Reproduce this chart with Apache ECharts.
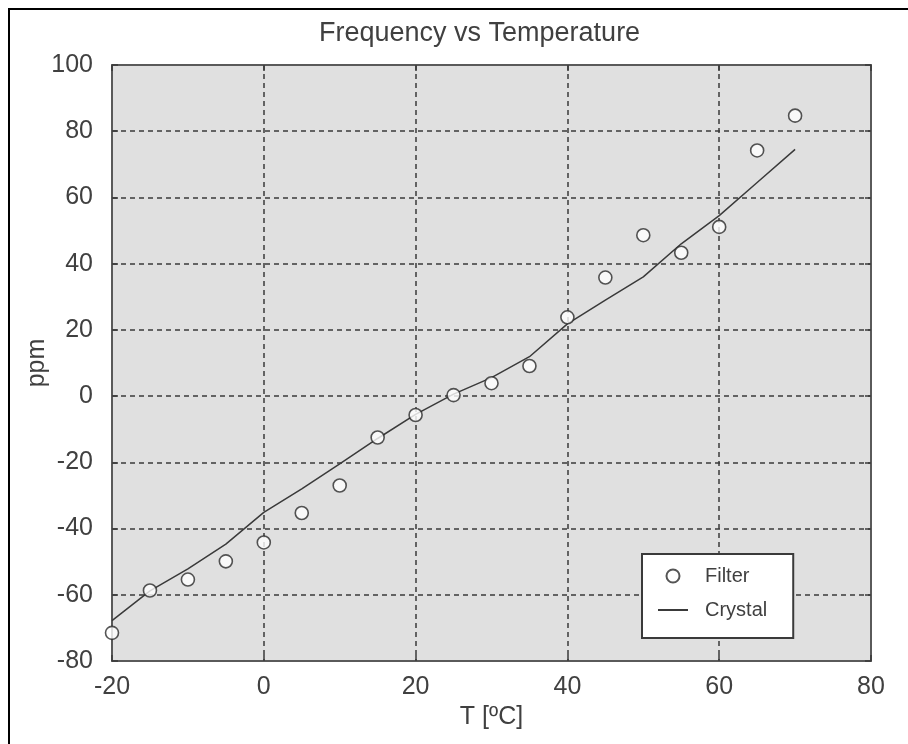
<!DOCTYPE html>
<html>
<head>
<meta charset="utf-8">
<script src="https://cdn.jsdelivr.net/npm/echarts@6/dist/echarts.min.js"></script>
<style>
html,body{margin:0;padding:0;background:#fff;}
#c{width:908px;height:744px;}
</style>
</head>
<body>
<div id="c"></div>
<script>
// ---- data ----
var temperature = [-20, -15, -10, -5, 0, 5, 10, 15, 20, 25, 30, 35, 40, 45, 50, 55, 60, 65, 70];
var filterPpm   = [-71.5, -58.7, -55.4, -49.9, -44.2, -35.3, -27, -12.5, -5.7, 0.3, 3.9, 9.1, 23.8, 35.8, 48.6, 43.3, 51.1, 74.2, 84.7];
var crystalPpm  = [-67.8, -58.8, -52.2, -44.7, -35.1, -28, -20.5, -12.8, -5.5, 0.6, 5.6, 11.9, 21.8, 29, 36, 46, 54.5, 64.5, 74.5];
var xTicks = [-20, 0, 20, 40, 60, 80];
var yTicks = [-80, -60, -40, -20, 0, 20, 40, 60, 80, 100];
var titleText = 'Frequency vs Temperature';
var xName = 'T [\u00BAC]';
var yName = 'ppm';
var seriesNames = ['Filter', 'Crystal'];

function pairs(xs, ys) { return xs.map(function (x, i) { return [x, ys[i]]; }); }

var FONT = "'Liberation Sans', Arial, sans-serif";
var TXT = '#404040';

var chart = echarts.init(document.getElementById('c'), null, {renderer: 'canvas'});

var gridLine = {show: true, lineStyle: {color: '#3a3a3a', width: 1.5, type: [5, 4]}};
var boxLine = {show: true, onZero: false, lineStyle: {color: '#5a5a5a', width: 2}};
var tickIn = {show: true, inside: true, length: 6, lineStyle: {color: '#3a3a3a', width: 1.5}};

chart.setOption({
  backgroundColor: '#ffffff',
  animation: false,
  title: {
    text: titleText,
    left: 319, top: 20, padding: 0,
    textStyle: {fontFamily: FONT, fontSize: 27, fontWeight: 'normal', color: TXT}
  },
  grid: {
    left: 112, right: 37, top: 65, bottom: 83,
    show: true, backgroundColor: '#e0e0e0', borderWidth: 0
  },
  legend: {
    orient: 'vertical',
    left: 642, top: 554,
    padding: [12, 26, 18, 15],
    itemGap: 14,
    itemWidth: 30, itemHeight: 13,
    backgroundColor: '#ffffff',
    borderColor: '#3a3a3a', borderWidth: 2,
    data: [{name: seriesNames[0]}, {name: seriesNames[1], itemStyle: {opacity: 0}}],
    textStyle: {fontFamily: FONT, fontSize: 20, color: TXT, lineHeight: 20, padding: [0, 0, 0, 12]}
  },
  xAxis: [{
    type: 'value', min: xTicks[0], max: xTicks[xTicks.length - 1], interval: 20,
    position: 'bottom',
    name: xName, nameLocation: 'middle', nameGap: 44,
    nameTextStyle: {fontFamily: FONT, fontSize: 25, color: TXT},
    axisLine: boxLine, axisTick: tickIn, splitLine: gridLine,
    axisLabel: {fontFamily: FONT, fontSize: 25, color: TXT, margin: 14}
  }, {
    type: 'value', min: xTicks[0], max: xTicks[xTicks.length - 1], interval: 20,
    position: 'top',
    axisLine: boxLine, axisTick: tickIn, splitLine: {show: false},
    axisLabel: {show: false}
  }],
  yAxis: [{
    type: 'value', min: yTicks[0], max: yTicks[yTicks.length - 1], interval: 20,
    position: 'left',
    name: yName, nameLocation: 'middle', nameGap: 62, nameRotate: 90,
    nameMoveOverlap: false,
    nameTextStyle: {fontFamily: FONT, fontSize: 25, color: TXT},
    axisLine: boxLine, axisTick: tickIn, splitLine: gridLine,
    axisLabel: {fontFamily: FONT, fontSize: 25, color: TXT, margin: 19}
  }, {
    type: 'value', min: yTicks[0], max: yTicks[yTicks.length - 1], interval: 20,
    position: 'right',
    axisLine: boxLine, axisTick: tickIn, splitLine: {show: false},
    axisLabel: {show: false}
  }],
  graphic: [{
    type: 'polyline', silent: true,
    shape: {points: [[9, 744], [9, 9], [908, 9]]},
    style: {stroke: '#000', lineWidth: 2, fill: null}
  }],
  series: [{
    name: seriesNames[0], type: 'scatter',
    data: pairs(temperature, filterPpm),
    symbol: 'circle', symbolSize: 13,
    itemStyle: {color: '#ffffff', borderColor: '#2a2a2a', borderWidth: 1.6},
    z: 3
  }, {
    name: seriesNames[1], type: 'line',
    data: pairs(temperature, crystalPpm),
    symbol: 'none', smooth: false,
    itemStyle: {color: '#3a3a3a'},
    lineStyle: {color: '#3a3a3a', width: 1.5},
    z: 2
  }]
});
</script>
</body>
</html>
